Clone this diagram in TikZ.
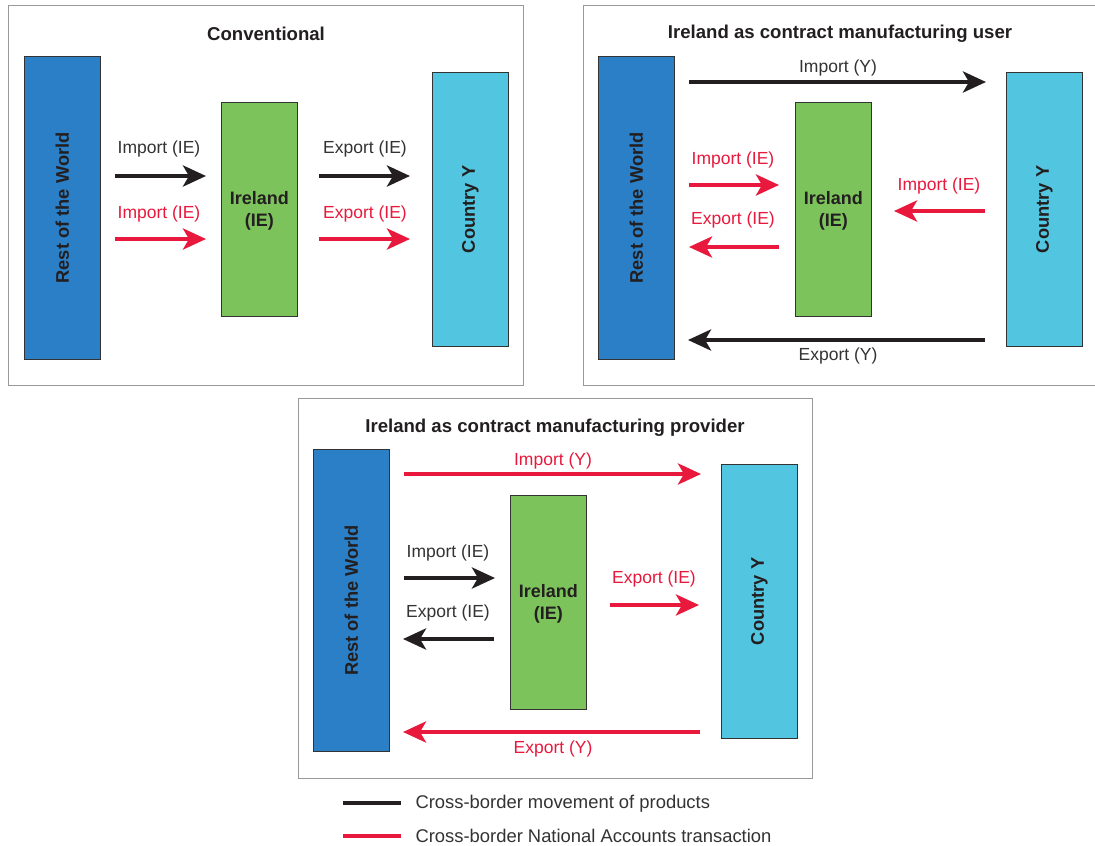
\documentclass[tikz,border=0pt]{standalone}
\usepackage{fontspec}
\setmainfont{Liberation Sans}
\usetikzlibrary{arrows.meta}
\definecolor{rowblue}{HTML}{2A7FC6}
\definecolor{iegreen}{HTML}{7DC35B}
\definecolor{ycyan}{HTML}{52C6E0}
\definecolor{nared}{HTML}{E8193C}
\definecolor{prodblack}{HTML}{231F20}
\definecolor{txtgray}{HTML}{333333}
\definecolor{framegray}{HTML}{999999}
\tikzset{
  panel/.style={draw=framegray, line width=1pt},
  box/.style={draw=txtgray, line width=0.8pt, minimum width=76pt, inner sep=0pt, anchor=north west, text=prodblack},
  rowbox/.style={box, fill=rowblue},
  iebox/.style={box, fill=iegreen},
  ybox/.style={box, fill=ycyan},
  vtext/.style={rotate=90, font=\fontsize{18.3}{21}\selectfont\bfseries, text=prodblack},
  ietext/.style={font=\fontsize{18}{22.5}\selectfont\bfseries, align=center, text=prodblack},
  ttl/.style={font=\fontsize{18.6}{21}\selectfont\bfseries, text=prodblack},
  lbl/.style={font=\fontsize{17.5}{21}\selectfont, text=txtgray},
  rlbl/.style={lbl, text=nared},
  leg/.style={font=\fontsize{18.4}{21}\selectfont, text=txtgray, anchor=west},
  prod/.style={draw=prodblack, line width=4.5pt, -{Stealth[length=23pt, width=21pt, inset=6pt]}},
  nat/.style={prod, draw=nared, fill=nared},
  legline/.style={line width=4.5pt}
}
\begin{document}
\begin{tikzpicture}[x=1pt,y=-1pt]
\useasboundingbox (0,0) rectangle (1095,846);
\fill[white] (0,0) rectangle (1095,846);

% ---------- Panel 1: Conventional ----------
\draw[panel] (8,5) rectangle (523,385);
\node[ttl] (t1) at (266,34) {Conventional};
\node[rowbox, minimum height=303pt] (row1) at (24,56) {};
\node[vtext] (row1t) at (row1.center) {Rest of the World};
\node[iebox, minimum height=214pt] (ie1) at (221,102) {};
\node[ietext] (ie1t) at ([yshift=-1.5pt]ie1.center) {Ireland\\(IE)};
\node[ybox, minimum height=274pt] (y1) at (432,72) {};
\node[vtext] (y1t) at (y1.center) {Country Y};

\coordinate (a1s) at (115,176); \coordinate (a1e) at (206,176);
\coordinate (a2s) at (115,239); \coordinate (a2e) at (206,239);
\coordinate (a3s) at (319,176); \coordinate (a3e) at (410,176);
\coordinate (a4s) at (319,239); \coordinate (a4e) at (410,239);
\draw[prod] (a1s) -- (a1e);
\draw[nat] (a2s) -- (a2e);
\draw[prod] (a3s) -- (a3e);
\draw[nat] (a4s) -- (a4e);
\node[lbl] (l1) at (159,149) {Import (IE)};
\node[rlbl] (l2) at (159,214) {Import (IE)};
\node[lbl] (l3) at (365,149) {Export (IE)};
\node[rlbl] (l4) at (365,214) {Export (IE)};

% ---------- Panel 2: user ----------
\draw[panel] (583,5) rectangle (1100,385);
\node[ttl] (t2) at (840,34) {Ireland as contract manufacturing user};
\node[rowbox, minimum height=303pt] (row2) at (598,56) {};
\node[vtext] (row2t) at (row2.center) {Rest of the World};
\node[iebox, minimum height=214pt] (ie2) at (795,102) {};
\node[ietext] (ie2t) at ([yshift=-1.5pt]ie2.center) {Ireland\\(IE)};
\node[ybox, minimum height=274pt] (y2) at (1006,72) {};
\node[vtext] (y2t) at (y2.center) {Country Y};

\coordinate (b1s) at (689,82);  \coordinate (b1e) at (986,82);
\coordinate (b2s) at (689,185); \coordinate (b2e) at (779,185);
\coordinate (b3s) at (779,247); \coordinate (b3e) at (689,247);
\coordinate (b4s) at (985,211); \coordinate (b4e) at (894,211);
\coordinate (b5s) at (985,340); \coordinate (b5e) at (688,340);
\draw[prod] (b1s) -- (b1e);
\draw[nat] (b2s) -- (b2e);
\draw[nat] (b3s) -- (b3e);
\draw[nat] (b4s) -- (b4e);
\draw[prod] (b5s) -- (b5e);
\node[lbl] (m1) at (838,68) {Import (Y)};
\node[rlbl] (m2) at (733,160) {Import (IE)};
\node[rlbl] (m3) at (733,220) {Export (IE)};
\node[rlbl] (m4) at (939,186) {Import (IE)};
\node[lbl] (m5) at (838,356) {Export (Y)};

% ---------- Panel 3: provider ----------
\draw[panel] (298,398) rectangle (812,778);
\node[ttl] (t3) at (555,428) {Ireland as contract manufacturing provider};
\node[rowbox, minimum height=302pt] (row3) at (313,449) {};
\node[vtext] (row3t) at (row3.center) {Rest of the World};
\node[iebox, minimum height=214pt] (ie3) at (510,495) {};
\node[ietext] (ie3t) at ([yshift=-1.5pt]ie3.center) {Ireland\\(IE)};
\node[ybox, minimum height=274pt] (y3) at (721,464) {};
\node[vtext] (y3t) at (y3.center) {Country Y};

\coordinate (c1s) at (404,474); \coordinate (c1e) at (701,474);
\coordinate (c2s) at (404,578); \coordinate (c2e) at (495,578);
\coordinate (c3s) at (494,639); \coordinate (c3e) at (403,639);
\coordinate (c4s) at (610,605); \coordinate (c4e) at (699,605);
\coordinate (c5s) at (700,732); \coordinate (c5e) at (403,732);
\draw[nat] (c1s) -- (c1e);
\draw[prod] (c2s) -- (c2e);
\draw[prod] (c3s) -- (c3e);
\draw[nat] (c4s) -- (c4e);
\draw[nat] (c5s) -- (c5e);
\node[rlbl] (n1) at (553,461) {Import (Y)};
\node[lbl] (n2) at (448,553) {Import (IE)};
\node[lbl] (n3) at (448,613) {Export (IE)};
\node[rlbl] (n4) at (654,579) {Export (IE)};
\node[rlbl] (n5) at (553,749) {Export (Y)};

% ---------- Legend ----------
\coordinate (g1s) at (343,803); \coordinate (g1e) at (401,803);
\coordinate (g2s) at (343,836); \coordinate (g2e) at (401,836);
\draw[legline, prodblack] (g1s) -- (g1e);
\draw[legline, nared] (g2s) -- (g2e);
\node[leg] (lg1) at (412,804) {Cross-border movement of products};
\node[leg] (lg2) at (412,836) {Cross-border National Accounts transaction};
\end{tikzpicture}
\end{document}
